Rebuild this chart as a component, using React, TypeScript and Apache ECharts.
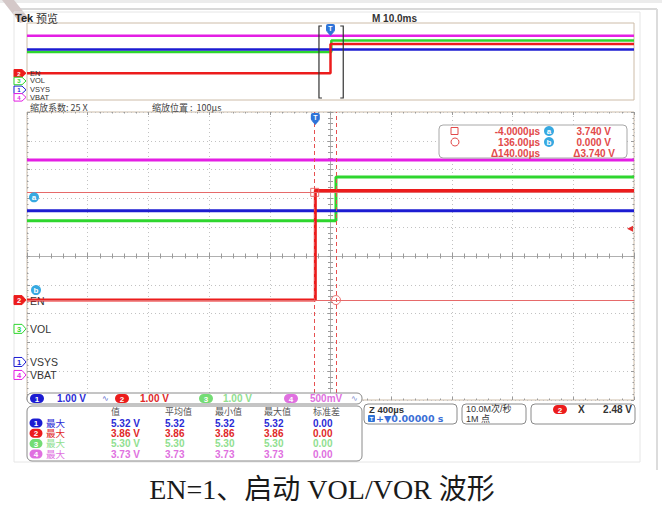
import React, { useEffect, useRef } from "react";
import * as echarts from "echarts";

// ---------- channel data ----------
const channelNames = ["VSYS", "EN", "VOL", "VBAT"];
const channelNumbers = ["1", "2", "3", "4"];
const channelColors = ["#1c1cd2", "#ec1c1c", "#2ed62e", "#e41ee4"];
const channelScaleV = [1.0, 1.0, 1.0, 0.5];
const channelScaleLabels = ["1.00 V", "1.00 V", "1.00 V", "500mV"];
const channelOffsetDiv = [-3.68, -1.53, -2.53, -4.13];
const levelBeforeV = [5.25, 0.0, 3.75, 3.73];
const levelAfterV = [5.25, 3.8, 5.27, 3.73];
const edgeTimeUs = [0, 0, 136, 0];
const drawOrder = [3, 2, 0, 1];

// ---------- time base ----------
const zoomTimePerDivUs = 400;
const zoomPositionUs = 100;
const recordTimePerDivUs = 10000;

// ---------- cursors / trigger ----------
const cursorTimesUs = [-4, 136];
const cursorVolts = [3.74, 0.0];
const cursorChannel = 1;
const cursorReadoutTime = ["-4.0000µs", "136.00µs", "Δ140.00µs"];
const cursorReadoutVolt = ["3.740 V", "0.000 V", "Δ3.740 V"];
const triggerLevelV = 2.48;
const triggerChannel = 1;

// ---------- measurement table ----------
const measHeaders = ["值", "平均值", "最小值", "最大值", "标准差"];
const measRowLabel = "最大";
const measValues = ["5.32 V", "3.86 V", "5.30 V", "3.73 V"];
const measMeans = ["5.32", "3.86", "5.30", "3.73"];
const measMins = ["5.32", "3.86", "5.30", "3.73"];
const measMaxs = ["5.32", "3.86", "5.30", "3.73"];
const measStds = ["0.00", "0.00", "0.00", "0.00"];

const captionText = "EN=1、启动 VOL/VOR 波形";

const toDivX = (t: number) => (t - zoomPositionUs) / zoomTimePerDivUs;
const toOvX = (t: number) => t / recordTimePerDivUs;
const toDivY = (v: number, ch: number) => v / channelScaleV[ch] + channelOffsetDiv[ch];

const mainStart = zoomPositionUs - 5 * zoomTimePerDivUs;
const mainEnd = zoomPositionUs + 5 * zoomTimePerDivUs;
const recStart = -5 * recordTimePerDivUs;
const recEnd = 5 * recordTimePerDivUs;

function traceData(ch: number, t0: number, t1: number, xf: (t: number) => number) {
  const b = toDivY(levelBeforeV[ch], ch);
  const a = toDivY(levelAfterV[ch], ch);
  const pts: number[][] = [[xf(t0), b]];
  if (levelBeforeV[ch] !== levelAfterV[ch]) {
    pts.push([xf(edgeTimeUs[ch]), b]);
    pts.push([xf(edgeTimeUs[ch]), a]);
  }
  pts.push([xf(t1), a]);
  return pts;
}

const SANS = "'Liberation Sans', 'Noto Sans CJK SC', sans-serif";
const CJK = "'Noto Sans CJK SC', 'Liberation Sans', sans-serif";

const baseAxis = {
  type: "value",
  min: -5,
  max: 5,
  interval: 1,
  axisLabel: { show: false },
  splitLine: { show: false },
  axisTick: { show: false },
  minorTick: { show: false },
  axisLine: { show: false, onZero: false },
};

function buildOption(): any {
  const tickColor = "#9a9a9a";
  const borderColor = "#cdbca8";
  const centerAxis = (inside: boolean, split: boolean, position: string) => ({
    ...baseAxis, gridIndex: 0, position,
    axisLine: { show: true, onZero: true, onZeroAxisIndex: 0, lineStyle: { color: "#b0b0b0", width: 1 } },
    axisTick: { show: true, inside, length: 3, lineStyle: { color: tickColor } },
    minorTick: { show: true, splitNumber: 5, length: 2.5, lineStyle: { color: tickColor } },
    splitLine: { show: split, lineStyle: { color: "#c2c2c2", type: [1, 3] } },
  });
  const rulerAxis = (position: string) => ({
    ...baseAxis, gridIndex: 0, position,
    axisTick: { show: true, inside: true, length: 3, lineStyle: { color: tickColor } },
    minorTick: { show: true, splitNumber: 5, length: 1.5, lineStyle: { color: tickColor } },
  });
  const xAxis: any[] = [
    centerAxis(true, true, "bottom"),
    centerAxis(false, false, "bottom"),
    rulerAxis("top"),
    rulerAxis("bottom"),
    { ...baseAxis, gridIndex: 1, show: false },
  ];
  const yAxis: any[] = [
    centerAxis(true, true, "left"),
    centerAxis(false, false, "left"),
    rulerAxis("right"),
    rulerAxis("left"),
    { ...baseAxis, gridIndex: 1, show: false },
  ];

  const series: any[] = [];
  drawOrder.forEach((ch) => {
    series.push({
      type: "line", name: channelNames[ch], xAxisIndex: 0, yAxisIndex: 0,
      data: traceData(ch, mainStart, mainEnd, toDivX),
      symbol: "none", silent: true, z: 3,
      lineStyle: { color: channelColors[ch], width: 3 },
      ...(ch === cursorChannel
        ? {
            markLine: {
              symbol: ["none", "none"], silent: true, label: { show: false },
              data: [
                { xAxis: toDivX(cursorTimesUs[0]), lineStyle: { type: [4, 3], color: "#e65050", width: 1 } },
                { xAxis: toDivX(cursorTimesUs[1]), lineStyle: { type: [4, 3], color: "#e65050", width: 1 } },
                { yAxis: toDivY(cursorVolts[0], cursorChannel), lineStyle: { type: "solid", color: "#e66a6a", width: 1 } },
                { yAxis: toDivY(cursorVolts[1], cursorChannel), lineStyle: { type: "solid", color: "#e66a6a", width: 1 } },
              ],
            },
          }
        : {}),
    });
  });
  drawOrder.forEach((ch) => {
    series.push({
      type: "line", name: channelNames[ch] + "-ov", xAxisIndex: 4, yAxisIndex: 4,
      data: traceData(ch, recStart, recEnd, toOvX),
      symbol: "none", silent: true, z: 3,
      lineStyle: { color: channelColors[ch], width: 2.5 },
    });
  });
  series.push({
    type: "scatter", xAxisIndex: 0, yAxisIndex: 0, silent: true, z: 4,
    data: [[toDivX(cursorTimesUs[0]), toDivY(cursorVolts[0], cursorChannel)]],
    symbol: "rect", symbolSize: 8,
    itemStyle: { color: "rgba(255,255,255,0)", borderColor: "#e65050", borderWidth: 1 },
  });
  series.push({
    type: "scatter", xAxisIndex: 0, yAxisIndex: 0, silent: true, z: 4,
    data: [[toDivX(cursorTimesUs[1]), toDivY(cursorVolts[1], cursorChannel)]],
    symbol: "circle", symbolSize: 9,
    itemStyle: { color: "rgba(255,255,255,0)", borderColor: "#e65050", borderWidth: 1 },
  });

  return {
    animation: false,
    backgroundColor: "#ffffff",
    grid: [
      { left: 27, top: 112, width: 607, height: 288, show: true, borderColor, borderWidth: 1, backgroundColor: "rgba(0,0,0,0)" },
      { left: 27, top: 23, width: 607, height: 77, show: true, borderColor, borderWidth: 1, backgroundColor: "rgba(0,0,0,0)" },
    ],
    xAxis,
    yAxis,
    series,
  };
}

function txt(text: string, x: number, y: number, o: any = {}) {
  return {
    type: "text", x, y, z: o.z ?? 20, silent: true,
    style: {
      text, fill: o.color ?? "#333", fontSize: o.size ?? 10, fontWeight: o.weight ?? "normal",
      fontFamily: o.family ?? SANS, align: o.align ?? "left", verticalAlign: "middle",
    },
  };
}

function pill(cx: number, cy: number, label: string, color: string, w = 13, h = 9, z = 25) {
  return {
    type: "group", x: cx, y: cy, z, silent: true,
    children: [
      { type: "rect", z, shape: { x: -w / 2, y: -h / 2, width: w, height: h, r: h / 2 }, style: { fill: color } },
      { type: "text", z: z + 1, style: { text: label, x: 0, y: 0.5, align: "center", verticalAlign: "middle", fill: "#fff", fontSize: 8, fontWeight: "bold", fontFamily: SANS } },
    ],
  };
}

function tag(y: number, ch: number, filled: boolean, z = 15, h = 9) {
  const c = channelColors[ch];
  const hh = h / 2;
  return {
    type: "group", x: 14, y, z, silent: true,
    children: [
      { type: "polygon", z, shape: { points: [[0, -hh], [8, -hh], [12, 0], [8, hh], [0, hh]] }, style: { fill: filled ? c : "#fff", stroke: c, lineWidth: 1 } },
      { type: "text", z: z + 1, style: { text: channelNumbers[ch], x: 5, y: 0.5, align: "center", verticalAlign: "middle", fill: filled ? "#fff" : c, fontSize: h - 1.5, fontWeight: "bold", fontFamily: SANS } },
    ],
  };
}

function tMarker(x: number, y: number, z = 30) {
  return {
    type: "group", x, y, z, silent: true,
    children: [
      { type: "rect", z, shape: { x: -4.5, y: 0, width: 9, height: 8, r: 2 }, style: { fill: "#2f74d8" } },
      { type: "polygon", z, shape: { points: [[-3.5, 8], [3.5, 8], [0, 12]] }, style: { fill: "#2f74d8" } },
      { type: "text", z: z + 1, style: { text: "T", x: 0, y: 4.5, align: "center", verticalAlign: "middle", fill: "#fff", fontSize: 7, fontWeight: "bold", fontFamily: SANS } },
    ],
  };
}

function buildGraphics(chart: any): any[] {
  const pm = (x: number, y: number) => chart.convertToPixel({ gridIndex: 0 }, [x, y]) as number[];
  const po = (x: number, y: number) => chart.convertToPixel({ gridIndex: 1 }, [x, y]) as number[];
  const g: any[] = [];

  // page frame
  g.push({ type: "line", z: 1, silent: true, shape: { x1: 0, y1: 1.5, x2: 662, y2: 1.5 }, style: { stroke: "#ececec", lineWidth: 3 } });
  g.push({ type: "line", z: 1, silent: true, shape: { x1: 18, y1: 9, x2: 657, y2: 9 }, style: { stroke: "#d9d9d9", lineWidth: 2 } });
  g.push({ type: "line", z: 1, silent: true, shape: { x1: 657, y1: 9, x2: 657, y2: 470 }, style: { stroke: "#dcdcdc", lineWidth: 2 } });
  g.push({ type: "polygon", z: 1, silent: true, shape: { points: [[2, 0], [14, 0], [30, 20], [20, 23]] }, style: { fill: "#d4c8c8" } });
  g.push({ type: "rect", z: 1, silent: true, shape: { x: 14, y: 12, width: 626, height: 450 }, style: { fill: "none", stroke: "#e6e6e6", lineWidth: 1 } });

  // header
  g.push(txt("Tek", 15, 18, { size: 11, weight: "bold", color: "#222" }));
  g.push(txt("预览", 36, 18, { size: 11, family: CJK, color: "#333" }));
  g.push(txt("M 10.0ms", 372, 18, { size: 10, weight: "bold", color: "#333" }));

  // overview labels: stacked from the ground positions, kept apart
  const ovOrder = [1, 2, 0, 3];
  let prevY = -100;
  ovOrder.forEach((ch) => {
    let y = po(-5, toDivY(0, ch))[1];
    if (y < prevY + 7.5) y = prevY + 7.5;
    prevY = y;
    g.push(tag(y, ch, ch === triggerChannel, 15 + ch, 7.5));
    g.push(txt(channelNames[ch], 30, y, { size: 7.5, color: "#333", z: 15 + ch }));
  });

  // overview trigger marker and zoom bracket
  const ovT = po(toOvX(0), 0)[0];
  g.push(tMarker(ovT, 24));
  const bl = po(toOvX(mainStart), 0)[0];
  const br = po(toOvX(mainEnd), 0)[0];
  g.push({ type: "polyline", z: 28, silent: true, shape: { points: [[bl + 3, 26], [bl, 26], [bl, 98], [bl + 3, 98]] }, style: { stroke: "#333", lineWidth: 1.2, fill: "none" } });
  g.push({ type: "polyline", z: 28, silent: true, shape: { points: [[br - 3, 26], [br, 26], [br, 98], [br - 3, 98]] }, style: { stroke: "#333", lineWidth: 1.2, fill: "none" } });

  // zoom info
  g.push(txt("缩放系数: 25 X", 30, 107.5, { size: 9, family: CJK, color: "#444" }));
  g.push(txt("缩放位置 :  100µs", 152, 107.5, { size: 9, family: CJK, color: "#444" }));

  // main trigger marker
  const mainT = pm(toDivX(0), 5);
  g.push(tMarker(mainT[0], 113));

  // main channel labels
  [3, 0, 2, 1].forEach((ch) => {
    const y = pm(-5, toDivY(0, ch))[1];
    g.push(tag(y, ch, ch === triggerChannel, 2));
    g.push(txt(channelNames[ch], 30, y + 0.5, { size: 10.5, color: "#333", z: 2 }));
  });

  // cursor a/b labels
  const ya = pm(-5, toDivY(cursorVolts[0], cursorChannel))[1];
  const yb = pm(-5, toDivY(cursorVolts[1], cursorChannel))[1];
  g.push({ type: "circle", z: 10, silent: true, shape: { cx: 34, cy: ya + 5, r: 5 }, style: { fill: "#36a9e1" } });
  g.push(txt("a", 34, ya + 5, { size: 8, weight: "bold", color: "#fff", align: "center", z: 11 }));
  g.push({ type: "circle", z: 10, silent: true, shape: { cx: 36, cy: yb - 10, r: 5 }, style: { fill: "#36a9e1" } });
  g.push(txt("b", 36, yb - 10, { size: 8, weight: "bold", color: "#fff", align: "center", z: 11 }));

  // trigger level arrow
  const yt = pm(5, toDivY(triggerLevelV, triggerChannel))[1];
  g.push({ type: "polygon", z: 12, silent: true, shape: { points: [[633, yt - 3], [633, yt + 3], [627, yt]] }, style: { fill: "#e63030" } });

  // cursor readout box
  const rc = "#e24a4a";
  g.push({ type: "rect", z: 30, silent: true, shape: { x: 439, y: 125, width: 188, height: 33, r: 4 }, style: { fill: "#fff", stroke: "#a8a8a8", lineWidth: 1 } });
  g.push({ type: "rect", z: 31, silent: true, shape: { x: 451, y: 127.5, width: 7, height: 7 }, style: { fill: "none", stroke: rc, lineWidth: 1 } });
  g.push({ type: "circle", z: 31, silent: true, shape: { cx: 455, cy: 142, r: 4 }, style: { fill: "none", stroke: rc, lineWidth: 1 } });
  const rys = [131, 142, 153];
  cursorReadoutTime.forEach((s, i) => g.push(txt(s, 540, rys[i], { size: 10, weight: "bold", color: rc, align: "right", z: 31 })));
  cursorReadoutVolt.forEach((s, i) => g.push(txt(s, i === 2 ? 615 : 611, rys[i], { size: 10, weight: "bold", color: rc, align: "right", z: 31 })));
  ["a", "b"].forEach((s, i) => {
    g.push({ type: "circle", z: 31, silent: true, shape: { cx: 549, cy: rys[i], r: 5 }, style: { fill: "#36a9e1" } });
    g.push(txt(s, 549, rys[i], { size: 8, weight: "bold", color: "#fff", align: "center", z: 32 }));
  });

  // channel bar
  g.push({ type: "rect", z: 40, silent: true, shape: { x: 27, y: 393, width: 335, height: 11, r: 5 }, style: { fill: "#fff", stroke: "#8a8a8a", lineWidth: 1 } });
  const pillX = [37, 122, 206, 291];
  const scaleX = [57, 140, 223, 310];
  const pillColors = ["#1c1cd2", "#ec1c1c", "#74dc74", "#e070e0"];
  const barText = ["#2b2bd6", "#e02828", "#90e090", "#e070e0"];
  [0, 1, 2, 3].forEach((ch) => {
    g.push(pill(pillX[ch], 398.5, channelNumbers[ch], pillColors[ch], 14, 9, 41));
    g.push(txt(channelScaleLabels[ch], scaleX[ch], 398.5, { size: 10, weight: "bold", color: barText[ch], z: 41 }));
  });
  g.push(txt("∿", 102, 398, { size: 8, color: "#5566cc", family: "'DejaVu Sans', sans-serif", z: 41 }));
  g.push(txt("∿", 351, 398, { size: 8, color: "#7788cc", family: "'DejaVu Sans', sans-serif", z: 41 }));

  // measurement table
  g.push({ type: "rect", z: 40, silent: true, shape: { x: 27, y: 406, width: 335, height: 55, r: 5 }, style: { fill: "#fff", stroke: "#8a8a8a", lineWidth: 1 } });
  const colX = [111, 165, 215, 264, 313];
  measHeaders.forEach((h, i) => g.push(txt(h, colX[i], 411.5, { size: 9, family: CJK, color: "#555", z: 41 })));
  const rowY = [423, 433.3, 443.6, 454];
  [0, 1, 2, 3].forEach((ch) => {
    const c = barText[ch];
    g.push(pill(36, rowY[ch], channelNumbers[ch], pillColors[ch], 13, 9, 41));
    g.push(txt(measRowLabel, 46, rowY[ch], { size: 9.5, family: SANS, color: c, z: 41 }));
    const vals = [measValues[ch], measMeans[ch], measMins[ch], measMaxs[ch], measStds[ch]];
    vals.forEach((v, i) => g.push(txt(v, colX[i], rowY[ch], { size: 10, weight: "bold", color: c, z: 41 })));
  });

  // right info boxes
  const boxStyle = { fill: "#fff", stroke: "#8a8a8a", lineWidth: 1 };
  g.push({ type: "rect", z: 40, silent: true, shape: { x: 364, y: 404, width: 93, height: 20, r: 4 }, style: boxStyle });
  g.push(txt("Z 400µs", 369, 409, { size: 9.5, weight: "bold", color: "#333", z: 41 }));
  g.push({ type: "rect", z: 41, silent: true, shape: { x: 368, y: 415, width: 7, height: 7, r: 1 }, style: { fill: "#2f74d8" } });
  g.push(txt("T", 371.5, 418.7, { size: 6, weight: "bold", color: "#fff", align: "center", z: 42 }));
  g.push(txt("+▼0.00000 s", 376, 418.5, { size: 9.5, weight: "bold", color: "#3b6fd6", family: "'DejaVu Sans', 'Liberation Sans', sans-serif", z: 41 }));
  g.push({ type: "rect", z: 40, silent: true, shape: { x: 462, y: 404, width: 64, height: 20, r: 4 }, style: boxStyle });
  g.push(txt("10.0M次/秒", 466, 409, { size: 9, color: "#333", family: SANS, z: 41 }));
  g.push(txt("1M 点", 466, 419, { size: 9, color: "#333", family: SANS, z: 41 }));
  g.push({ type: "rect", z: 40, silent: true, shape: { x: 531, y: 404, width: 104, height: 20, r: 4 }, style: boxStyle });
  g.push(pill(560, 409.5, channelNumbers[triggerChannel], "#ec1c1c", 14, 9, 41));
  g.push(txt("X", 578, 409.5, { size: 10, weight: "bold", color: "#333", z: 41 }));
  g.push(txt(triggerLevelV.toFixed(2) + " V", 632, 409.5, { size: 10, weight: "bold", color: "#333", align: "right", z: 41 }));

  // caption
  g.push(txt(captionText, 322, 489, { size: 28, color: "#1a1a1a", family: "'Liberation Serif', 'Noto Sans CJK SC', serif", align: "center", z: 41 }));
  return g;
}

export default function App() {
  const ref = useRef<HTMLDivElement>(null);
  useEffect(() => {
    const chart = echarts.init(ref.current!, undefined, { renderer: "svg" });
    chart.setOption(buildOption());
    chart.setOption({ graphic: buildGraphics(chart) });
    return () => chart.dispose();
  }, []);
  return (
    <div
      ref={ref}
      style={{ position: "fixed", left: 0, top: 0, width: 662, height: 508, background: "#ffffff" }}
    />
  );
}
